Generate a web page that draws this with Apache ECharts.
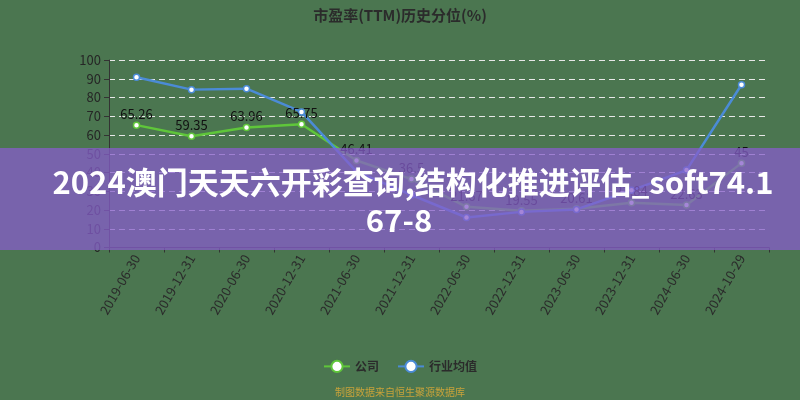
<!DOCTYPE html>
<html><head><meta charset="utf-8">
<script src="https://cdn.jsdelivr.net/npm/echarts@6/dist/echarts.min.js"></script>
<style>html,body{margin:0;padding:0;background:#4b7650;}#c{width:800px;height:400px;}</style>
</head><body><div id="c"></div>
<script>
const categories = ['2019-06-30','2019-12-31','2020-06-30','2020-12-31','2021-06-30','2021-12-31','2022-06-30','2022-12-31','2023-06-30','2023-12-31','2024-06-30','2024-10-29'];
const companyValues = [65.26, 59.35, 63.96, 65.75, 46.41, 36.5, 21.67, 19.55, 20.61, 23.84, 22.63, 45];
const industryValues = [90.8, 84.2, 84.7, 72.3, 40.5, 28.0, 16.0, 19.0, 20.3, 30.5, 41.3, 86.8];
const titleText = '市盈率(TTM)历史分位(%)';
const bannerLine1 = '2024澳门天天六开彩查询,结构化推进评估_soft74.1';
const bannerLine2 = '67-8';
const sourceText = '制图数据来自恒生聚源数据库';

const chart = echarts.init(document.getElementById('c'));
const font = '"Noto Sans CJK SC", "Noto Sans", sans-serif';
chart.setOption({
  backgroundColor: '#4b7650',
  animation: false,
  title: { text: titleText, left: 'center', top: 3,
    textStyle: { color: '#2b2b2b', fontSize: 15, fontWeight: 'bold', fontFamily: font } },
  grid: { left: 109, right: 31, top: 60, bottom: 152.5 },
  legend: { bottom: 22, left: 'center', itemGap: 18, itemWidth: 26, itemHeight: 14,
    textStyle: { color: '#2b2b2b', fontSize: 12, fontWeight: 'bold', fontFamily: font },
    data: ['公司', '行业均值'] },
  xAxis: { type: 'category', data: categories, boundaryGap: true,
    axisLine: { lineStyle: { color: '#333' } },
    axisTick: { show: true, lineStyle: { color: '#333' } },
    axisLabel: { rotate: 60, color: '#2b2b2b', fontSize: 13, margin: 8, fontFamily: font } },
  yAxis: { type: 'value', min: 0, max: 100, interval: 10,
    axisLine: { show: true, lineStyle: { color: '#333' } },
    axisTick: { show: true, lineStyle: { color: '#333' } },
    axisLabel: { color: '#262626', fontSize: 13, fontFamily: font },
    splitLine: { lineStyle: { type: [6, 4], color: '#e8e8e8', width: 1 } } },
  series: [
    { name: '公司', type: 'line', data: companyValues, symbol: 'circle', symbolSize: 6,
      itemStyle: { color: '#ffffff', borderColor: '#5fc63a', borderWidth: 1.5 },
      lineStyle: { color: '#5fc63a', width: 2.5 },
      label: { show: true, position: 'top', distance: 1, color: '#111', fontSize: 13, fontFamily: font } },
    { name: '行业均值', type: 'line', data: industryValues, symbol: 'circle', symbolSize: 6,
      itemStyle: { color: '#ffffff', borderColor: '#4b8bd6', borderWidth: 1.5 },
      lineStyle: { color: '#4b8bd6', width: 2.5 } }
  ],
  graphic: [
    { type: 'rect', shape: { x: 0, y: 148, width: 800, height: 102 }, z: 100,
      style: { fill: 'rgba(135,94,203,0.75)' } },
    { type: 'text', x: 413, y: 163, z: 101,
      style: { text: bannerLine1, align: 'center', lineHeight: 38,
        fill: '#ffffff', fontSize: 31, fontWeight: 'bold', fontFamily: font } },
    { type: 'text', x: 399, y: 201, z: 101,
      style: { text: bannerLine2, align: 'center', lineHeight: 38,
        fill: '#ffffff', fontSize: 31, fontWeight: 'bold', fontFamily: font } },
    { type: 'text', x: 400, y: 387, z: 101,
      style: { text: sourceText, align: 'center', fill: '#c9a33a', fontSize: 10, fontFamily: font } }
  ]
});
</script></body></html>
